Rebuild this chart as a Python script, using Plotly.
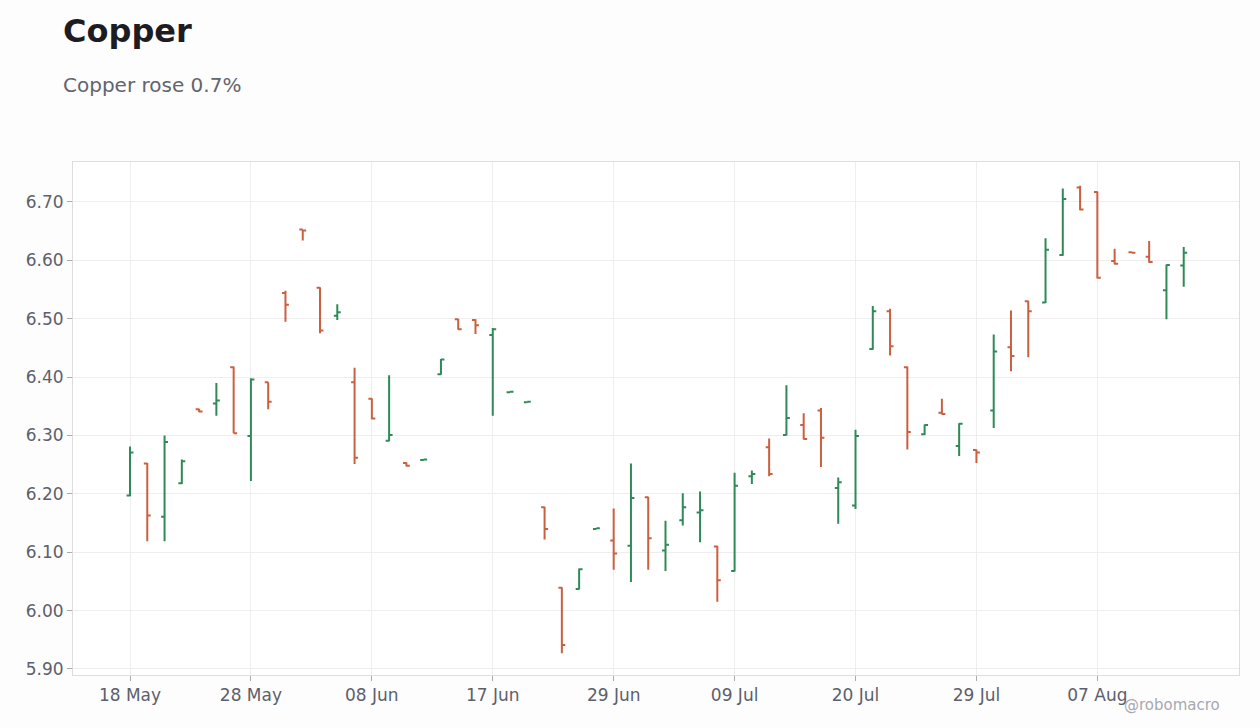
import plotly.graph_objects as go

# trading days (2020), one bar per day
dates = [
    "2020-05-18", "2020-05-19", "2020-05-20", "2020-05-21", "2020-05-22", "2020-05-26", "2020-05-27",
    "2020-05-28", "2020-05-29", "2020-06-01", "2020-06-02", "2020-06-03", "2020-06-04", "2020-06-05",
    "2020-06-08", "2020-06-09", "2020-06-10", "2020-06-11", "2020-06-12", "2020-06-15", "2020-06-16",
    "2020-06-17", "2020-06-18", "2020-06-22", "2020-06-23", "2020-06-24", "2020-06-25", "2020-06-26",
    "2020-06-29", "2020-06-30", "2020-07-01", "2020-07-02", "2020-07-06", "2020-07-07", "2020-07-08",
    "2020-07-09", "2020-07-10", "2020-07-13", "2020-07-14", "2020-07-15", "2020-07-16", "2020-07-17",
    "2020-07-20", "2020-07-21", "2020-07-22", "2020-07-23", "2020-07-24", "2020-07-27", "2020-07-28",
    "2020-07-29", "2020-07-30", "2020-07-31", "2020-08-03", "2020-08-04", "2020-08-05", "2020-08-06",
    "2020-08-07", "2020-08-10", "2020-08-11", "2020-08-12", "2020-08-13", "2020-08-14",
]

opens = [6.197, 6.252, 6.161, 6.218, 6.345, 6.355, 6.417, 6.299, 6.391, 6.544,
         6.653, 6.553, 6.505, 6.391, 6.363, 6.291, 6.253, 6.258, 6.405, 6.499,
         6.498, 6.472, 6.374, 6.357, 6.177, 6.039, 6.037, 6.140, 6.120, 6.111,
         6.194, 6.103, 6.155, 6.168, 6.110, 6.068, 6.230, 6.280, 6.301, 6.318,
         6.343, 6.210, 6.180, 6.448, 6.513, 6.417, 6.302, 6.339, 6.282, 6.275,
         6.343, 6.451, 6.530, 6.528, 6.609, 6.725, 6.717, 6.599, 6.614, 6.606,
         6.549, 6.591]
highs = [6.281, 6.253, 6.300, 6.259, 6.346, 6.390, 6.418, 6.398, 6.391, 6.548,
         6.653, 6.554, 6.525, 6.416, 6.364, 6.403, 6.254, 6.259, 6.431, 6.500,
         6.499, 6.484, 6.375, 6.358, 6.178, 6.040, 6.072, 6.141, 6.175, 6.252,
         6.195, 6.154, 6.201, 6.204, 6.111, 6.236, 6.240, 6.295, 6.386, 6.338,
         6.347, 6.228, 6.310, 6.522, 6.517, 6.418, 6.319, 6.363, 6.321, 6.276,
         6.473, 6.514, 6.531, 6.638, 6.723, 6.728, 6.718, 6.620, 6.614, 6.633,
         6.593, 6.623]
lows = [6.196, 6.119, 6.119, 6.217, 6.340, 6.334, 6.304, 6.222, 6.345, 6.495,
        6.634, 6.475, 6.498, 6.251, 6.328, 6.290, 6.247, 6.258, 6.404, 6.481,
        6.474, 6.334, 6.374, 6.357, 6.122, 5.927, 6.036, 6.140, 6.070, 6.049,
        6.070, 6.068, 6.146, 6.117, 6.015, 6.067, 6.217, 6.230, 6.300, 6.293,
        6.246, 6.149, 6.174, 6.447, 6.437, 6.276, 6.301, 6.336, 6.265, 6.253,
        6.313, 6.410, 6.434, 6.527, 6.608, 6.686, 6.569, 6.593, 6.613, 6.596,
        6.499, 6.555]
closes = [6.271, 6.163, 6.289, 6.256, 6.341, 6.360, 6.304, 6.396, 6.358, 6.524,
          6.651, 6.480, 6.511, 6.262, 6.329, 6.301, 6.248, 6.259, 6.430, 6.482,
          6.489, 6.482, 6.375, 6.358, 6.140, 5.941, 6.071, 6.141, 6.098, 6.193,
          6.124, 6.113, 6.177, 6.172, 6.052, 6.214, 6.234, 6.234, 6.330, 6.294,
          6.296, 6.220, 6.299, 6.513, 6.453, 6.306, 6.318, 6.337, 6.320, 6.271,
          6.444, 6.436, 6.513, 6.618, 6.705, 6.687, 6.570, 6.594, 6.613, 6.597,
          6.592, 6.613]

tick_dates = dates[::7]
tick_labels = ["18 May", "28 May", "08 Jun", "17 Jun", "29 Jun", "09 Jul", "20 Jul", "29 Jul", "07 Aug"]

font = "DejaVu Sans"
grey = "#5c606c"

fig = go.Figure()
fig.add_trace(go.Ohlc(x=dates, open=opens, high=highs, low=lows, close=closes,
                      increasing=dict(line=dict(color="#2e8b57", width=2)),
                      decreasing=dict(line=dict(color="#c9603f", width=2)),
                      tickwidth=0.2, showlegend=False))

fig.update_layout(
    width=1260, height=728,
    margin=dict(l=73, r=21, t=162, b=53),
    paper_bgcolor="#fdfdfd", plot_bgcolor="white",
    font=dict(family=font, size=17, color=grey),
    title=dict(text="<b>Copper</b>", x=63 / 1260, xref="container", xanchor="left",
               y=1 - 31 / 728, yref="container", yanchor="middle",
               font=dict(family=font, size=32, color="#1c1c22")),
    showlegend=False,
    annotations=[
        dict(text="Copper rose 0.7%", xref="paper", yref="paper", x=-12 / 1166, y=(675 - 85) / 513,
             xanchor="left", yanchor="middle", showarrow=False,
             font=dict(family=font, size=20, color="#62646e")),
        dict(text="@robomacro", xref="paper", yref="paper", x=(1222 - 73) / 1166, y=(675 - 705) / 513,
             xanchor="right", yanchor="middle", showarrow=False,
             font=dict(family=font, size=15, color="#a8a8b0")),
    ],
)
fig.update_xaxes(type="category", range=[-3.3, 64.2], tickvals=tick_dates, ticktext=tick_labels,
                 rangeslider=dict(visible=False), showgrid=True, gridcolor="#eeeeee",
                 showline=True, linecolor="#dddddd", mirror=True,
                 ticks="outside", ticklen=5, tickcolor="#aaaaaa")
fig.update_yaxes(range=[5.8897, 6.7685], dtick=0.1, tickformat=".2f", showgrid=True, gridcolor="#eeeeee",
                 showline=True, linecolor="#dddddd", mirror=True, zeroline=False,
                 ticks="outside", ticklen=5, tickcolor="#aaaaaa")

fig.write_html("out.html", config={"displayModeBar": False},
               post_script="document.body.style.margin='0';")
